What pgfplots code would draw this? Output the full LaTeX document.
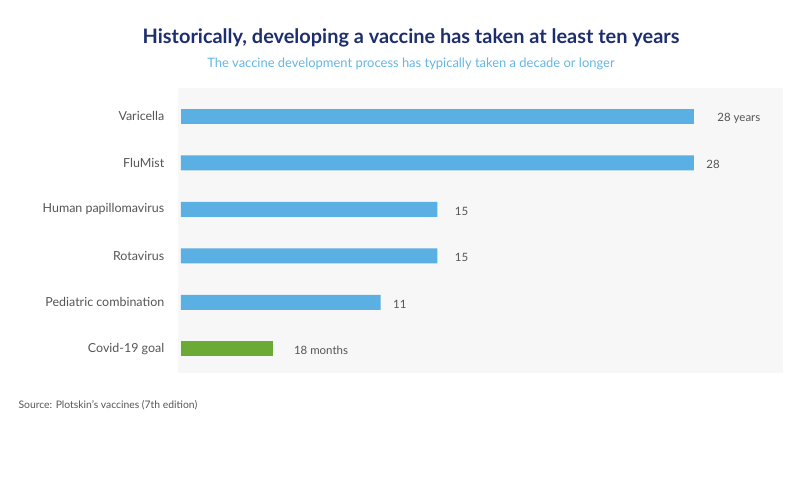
\documentclass[border=0pt]{standalone}
\usepackage{pgfplots}
\pgfplotsset{compat=1.18}
\usepackage{fontspec}
\setmainfont{Lato}

\definecolor{barblue}{RGB}{90,176,226}
\definecolor{bargreen}{RGB}{106,170,53}
\definecolor{titlenavy}{RGB}{28,46,110}
\definecolor{subblue}{RGB}{100,182,226}
\definecolor{labgray}{RGB}{85,85,85}
\definecolor{panel}{RGB}{247,247,247}

\begin{document}
\begin{tikzpicture}
% full canvas, 1bp = 1px
\path (0,0) rectangle (800bp,478bp);

\node[font=\fontsize{20}{23}\selectfont\bfseries, text=titlenavy] at (411bp,440bp)
  {Historically, developing a vaccine has taken at least ten years};
\node[font=\fontsize{13}{15}\selectfont, text=subblue] at (411bp,414bp)
  {The vaccine development process has typically taken a decade or longer};

\begin{axis}[
    at={(178bp,105bp)}, anchor=south west,
    scale only axis,
    width=605bp, height=285bp,
    xbar,
    bar width=15bp,
    bar shift=0pt,
    xmin=-0.16, xmax=32.86,
    ymin=-0.61, ymax=5.52,
    y dir=reverse,
    axis background/.style={fill=panel},
    axis line style={draw=none},
    major tick style={draw=none},
    xtick=\empty,
    ytick={0,1,2,3,4,5},
    yticklabels={Varicella, FluMist, Human papillomavirus, Rotavirus, Pediatric combination, Covid-19 goal},
    yticklabel style={font=\fontsize{12.5}{15}\selectfont, text=labgray, xshift=-6bp},
    point meta=explicit symbolic,
    nodes near coords,
    nodes near coords style={font=\fontsize{11.5}{14}\selectfont, text=labgray, anchor=west, xshift=9bp, yshift=-2bp},
    table/col sep=comma, table/row sep=\\,
]
% drawn lengths (years) with the labels printed on the chart
\addplot[fill=barblue, draw=none, nodes near coords style={xshift=11bp}] table[x=len, y=pos, meta=lab] {
len,pos,lab\\
28,0,28 years\\
};
\addplot[fill=barblue, draw=none] table[x=len, y=pos, meta=lab] {
len,pos,lab\\
28,1,28\\
10.9,4,11\\
};
\addplot[fill=barblue, draw=none, nodes near coords style={xshift=5bp}] table[x=len, y=pos, meta=lab] {
len,pos,lab\\
14,2,15\\
14,3,15\\
};
\addplot[fill=bargreen, draw=none, nodes near coords style={xshift=9bp}] table[x=len, y=pos, meta=lab] {
len,pos,lab\\
5,5,18 months\\
};
\end{axis}

\node[anchor=west, font=\fontsize{10.4}{12}\selectfont, text=labgray] at (15bp,73bp)
  {Source: Plotskin's vaccines (7th edition)};
\end{tikzpicture}
\end{document}
